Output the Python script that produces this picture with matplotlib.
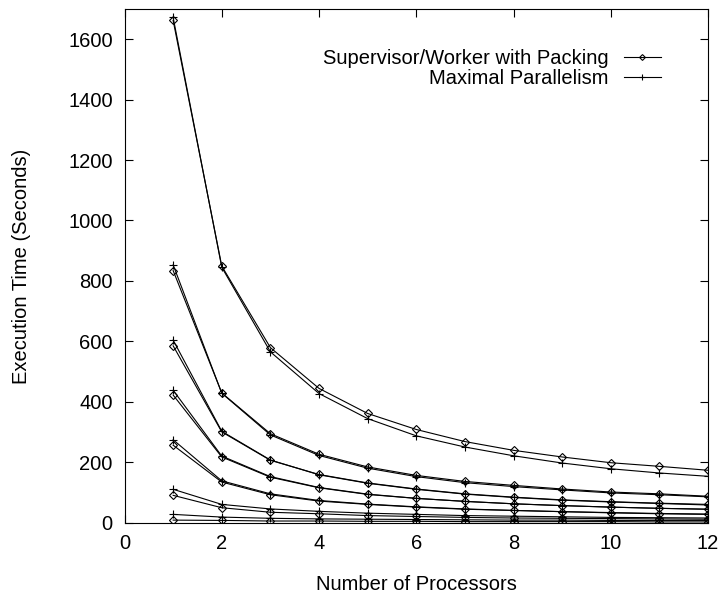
import numpy as np
import matplotlib.pyplot as plt

plt.rcParams['font.family'] = ['Liberation Sans', 'DejaVu Sans']

procs = np.arange(1, 13)

# Supervisor/Worker with Packing, one list per problem size
packing = [
    [1662, 849, 579, 444, 361, 308, 268, 239, 217, 198, 186, 173],
    [834, 429, 294, 226, 184, 156, 136, 123, 111, 101, 95, 87],
    [585, 300, 206, 159, 131, 111, 95, 84, 75, 69, 64, 60],
    [422, 217, 150, 115, 93, 80, 70, 62, 56, 51, 47, 44],
    [256, 134, 92, 71, 60, 51, 44, 40, 36, 32, 29, 27],
    [90, 49, 34, 29, 23, 20, 17, 15, 14, 13, 12, 11],
    [8, 7, 5, 5, 4, 4, 3, 3, 3, 3, 2, 2],
]

# Maximal Parallelism, same problem sizes
maximal = [
    [1672, 845, 565, 427, 344, 287, 250, 221, 197, 178, 164, 153],
    [853, 428, 290, 222, 180, 152, 132, 119, 108, 98, 92, 85],
    [604, 302, 207, 158, 130, 110, 94, 83, 74, 68, 63, 58],
    [438, 220, 152, 116, 94, 80, 70, 62, 56, 51, 47, 44],
    [274, 138, 95, 73, 61, 52, 45, 40, 36, 33, 30, 28],
    [110, 60, 45, 37, 31, 27, 23, 21, 19, 17, 16, 15],
    [27, 18, 14, 12, 11, 10, 9, 8, 8, 7, 7, 7],
]

xticks = [0, 2, 4, 6, 8, 10, 12]
yticks = [0, 200, 400, 600, 800, 1000, 1200, 1400, 1600]

fs = 14.5
fig = plt.figure(figsize=(7.21, 5.95), dpi=100)
ax = fig.add_axes([0.1727, 0.1218, 0.8093, 0.8631])

for i, ys in enumerate(packing):
    ax.plot(procs, ys, color='black', linewidth=0.8, marker='D', markersize=3.7,
            markerfacecolor='none', markeredgewidth=0.8,
            label='Supervisor/Worker with Packing' if i == 0 else None)
for i, ys in enumerate(maximal):
    ax.plot(procs, ys, color='black', linewidth=0.8, marker='+', markersize=6,
            markeredgewidth=0.8,
            label='Maximal Parallelism' if i == 0 else None)

ax.set_xlim(0, 12)
ax.set_ylim(0, 1700)
ax.set_xticks(xticks)
ax.set_yticks(yticks)
ax.tick_params(direction='in', length=6, width=0.8, top=True, right=True,
               labelsize=fs, pad=8.5)
for s in ax.spines.values():
    s.set_linewidth(0.8)

fig.text(416 / 721, 1 - 584 / 595, 'Number of Processors', fontsize=fs,
         ha='center', va='center')
fig.text(22 / 721, 1 - 266 / 595, 'Execution Time (Seconds)', fontsize=fs,
         rotation=90, ha='center', va='center')

ax.legend(loc='upper right', bbox_to_anchor=(661 / 721, 1 - 49 / 595),
          bbox_transform=fig.transFigure, frameon=False, markerfirst=False,
          fontsize=fs, handlelength=1.85, handletextpad=0.75, labelspacing=0.05,
          borderpad=0, borderaxespad=0, markerscale=0.8)

fig.savefig('out.png', dpi=100)
